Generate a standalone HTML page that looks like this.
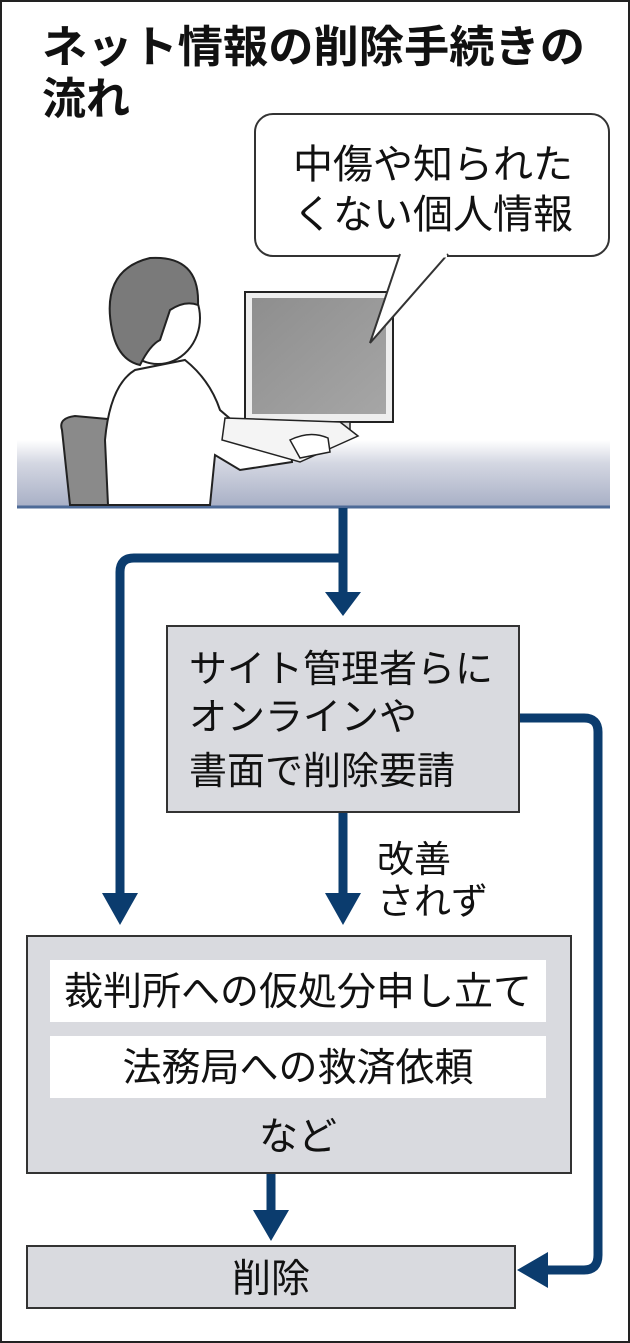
<!DOCTYPE html>
<html><head><meta charset="utf-8"><style>
html,body{margin:0;padding:0;background:#fff}
svg{display:block}
text{font-family:"Liberation Sans","Noto Sans CJK JP",sans-serif;fill:#111}
</style></head><body>
<svg width="630" height="1343" viewBox="0 0 630 1343" xmlns="http://www.w3.org/2000/svg">
<defs>
<linearGradient id="desk" x1="0" y1="0" x2="0" y2="1">
<stop offset="0" stop-color="#ffffff"/><stop offset="0.35" stop-color="#d4d7e2"/><stop offset="1" stop-color="#a9b0c6"/>
</linearGradient>
<linearGradient id="scr" x1="0" y1="0" x2="1" y2="1">
<stop offset="0" stop-color="#8e8e8e"/><stop offset="1" stop-color="#a6a6a6"/>
</linearGradient>
</defs>
<rect x="1" y="1" width="628" height="1341" fill="#fff" stroke="#222" stroke-width="2"/>
<text x="42" y="62" font-size="44" font-weight="bold" textLength="543" lengthAdjust="spacingAndGlyphs">ネット情報の削除手続きの</text>
<text x="42" y="114" font-size="44" font-weight="bold">流れ</text>

<!-- desk band -->
<rect x="17" y="440" width="593" height="66" fill="url(#desk)"/>
<line x1="17" y1="507" x2="610" y2="507" stroke="#4d6a97" stroke-width="3"/>

<!-- chair -->
<path d="M62 430 Q58 418 75 416 L140 422 Q158 426 160 445 L178 505 L70 505 Z" fill="#8a8a8a" stroke="#222" stroke-width="2"/>
<!-- body -->
<path d="M108 505 L105 440 Q110 385 135 370 L185 360 Q210 380 220 410 L255 440 L290 440 L292 462 L240 470 L215 455 L210 505 Z" fill="#fff" stroke="#222" stroke-width="2"/>
<!-- head -->
<ellipse cx="158" cy="318" rx="42" ry="46" fill="#fff" stroke="#222" stroke-width="2"/>
<path d="M112 330 Q100 270 150 258 Q200 255 198 305 Q185 300 170 310 L160 340 Q150 345 140 365 Q118 360 112 330Z" fill="#7a7a7a" stroke="#222" stroke-width="2"/>
<!-- monitor -->
<rect x="245" y="292" width="148" height="130" fill="#eee" stroke="#222" stroke-width="2"/>
<rect x="252" y="298" width="134" height="116" fill="url(#scr)"/>
<rect x="315" y="422" width="35" height="14" fill="#ddd" stroke="#222" stroke-width="1.5"/>
<!-- keyboard -->
<path d="M225 418 L340 422 L358 436 L300 462 L222 440Z" fill="#f4f4f4" stroke="#222" stroke-width="1.5"/>
<path d="M290 440 Q310 430 328 438 L330 452 L300 458Z" fill="#fff" stroke="#222" stroke-width="1.5"/>

<!-- bubble -->
<rect x="255" y="114" width="354" height="142" rx="18" fill="#fff" stroke="#333" stroke-width="2"/>
<path d="M400 254 L370 343 L448 254" fill="#fff" stroke="#333" stroke-width="2"/>
<line x1="401" y1="256" x2="447" y2="256" stroke="#fff" stroke-width="3"/>
<text x="433" y="178" font-size="40" text-anchor="middle">中傷や知られた</text>
<text x="433" y="228" font-size="40" text-anchor="middle">くない個人情報</text>

<!-- connectors -->
<g fill="none" stroke="#0b3c6e" stroke-width="9">
<path d="M343 508 L343 598"/>
<path d="M343 558 L134 558 Q120 558 120 572 L120 900"/>
<path d="M343 812 L343 900"/>
<path d="M519 718 L584 718 Q598 718 598 732 L598 1255 Q598 1270 584 1270 L540 1270"/>
<path d="M271 1173 L271 1218"/>
</g>
<g fill="#0b3c6e">
<path d="M325 592 L361 592 L343 616Z"/>
<path d="M102 893 L138 893 L120 925Z"/>
<path d="M325 893 L361 893 L343 925Z"/>
<path d="M253 1210 L289 1210 L271 1241Z"/>
<path d="M548 1252 L548 1288 L517 1270Z"/>
</g>

<!-- box1 -->
<rect x="167" y="626" width="352" height="186" fill="#d9dadf" stroke="#333" stroke-width="2"/>
<text x="189" y="682" font-size="38">サイト管理者らに</text>
<text x="189" y="730" font-size="38">オンラインや</text>
<text x="189" y="784" font-size="38">書面で削除要請</text>
<text x="377" y="872" font-size="37">改善</text>
<text x="377" y="914" font-size="37">されず</text>

<!-- box2 -->
<rect x="27" y="936" width="544" height="237" fill="#d9dadf" stroke="#333" stroke-width="2"/>
<rect x="50" y="960" width="496" height="62" fill="#fff"/>
<rect x="50" y="1036" width="496" height="62" fill="#fff"/>
<text x="298" y="1005" font-size="39" text-anchor="middle">裁判所への仮処分申し立て</text>
<text x="298" y="1081" font-size="39" text-anchor="middle">法務局への救済依頼</text>
<text x="298" y="1150" font-size="39" text-anchor="middle">など</text>

<!-- box3 -->
<rect x="27" y="1246" width="488" height="62" fill="#d9dadf" stroke="#333" stroke-width="2"/>
<text x="271" y="1292" font-size="39" text-anchor="middle">削除</text>
</svg>
</body></html>
